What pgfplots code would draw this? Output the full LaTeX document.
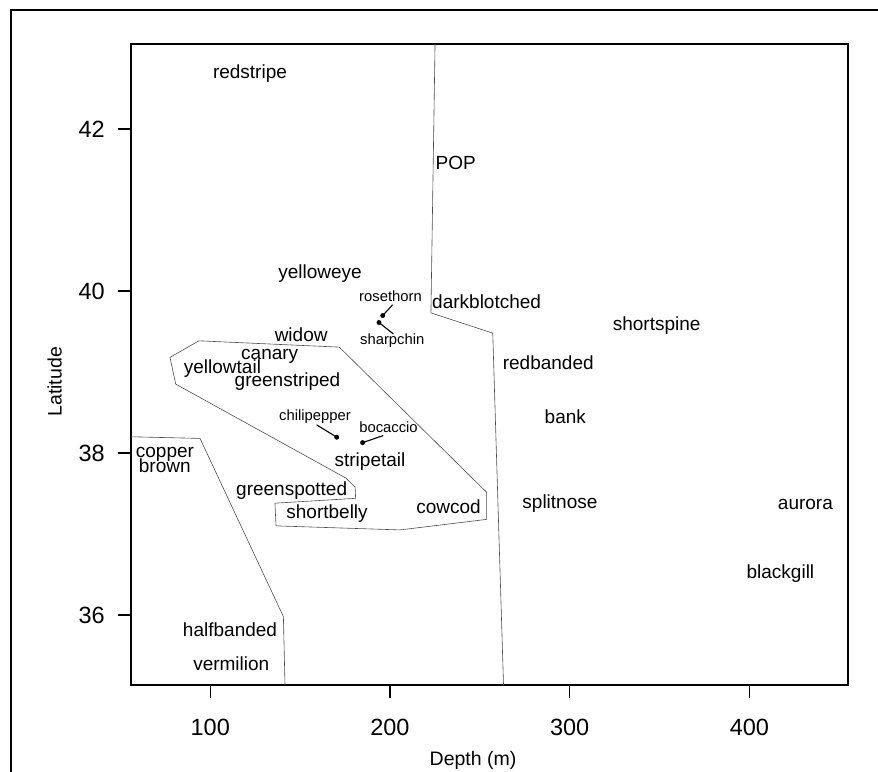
\documentclass[border=0pt]{standalone}
\usepackage{pgfplots}
\pgfplotsset{compat=1.18}
\usepackage{fontspec}
\setmainfont{Liberation Sans}
\begin{document}
\begin{tikzpicture}
\useasboundingbox (0pt,0pt) rectangle (878pt,-771pt);
\draw[line width=1.8pt] (11pt,-780pt) -- (11pt,-10pt) -- (890pt,-10pt);
\begin{axis}[
  at={(131pt,-685pt)}, anchor=south west,
  scale only axis, width=717pt, height=641pt,
  xmin=55.9, xmax=454.9, ymin=35.135, ymax=43.05,
  xtick={100,200,300,400}, ytick={36,38,40,42},
  xtick pos=bottom, ytick pos=left,
  tick align=outside, major tick length=13pt,
  axis line style={line width=1.1pt},
  every tick/.style={black, line width=1.1pt},
  tick label style={font=\fontsize{23.5}{26}\selectfont},
  /pgf/number format/assume math mode=true,
  yticklabel style={anchor=east, inner sep=0pt, xshift=-13pt},
  xticklabel style={anchor=north, inner sep=0pt, yshift=-21pt},
  xlabel={Depth (m)}, ylabel={Latitude},
  xlabel style={at={(axis description cs:0.477,-0.1248)}, anchor=base, font=\fontsize{19.5}{22}\selectfont},
  ylabel style={at={(axis description cs:-0.0967,0.473)}, anchor=base, font=\fontsize{19.5}{22}\selectfont},
  clip=false,
]
% shelf / slope boundary
\addplot[black!70, line width=0.6pt] coordinates {
 (225.1,43.05) (222.8,39.73) (257.2,39.48) (263.2,35.135)};
% bottom-left group
\addplot[black!70, line width=0.6pt] coordinates {
 (55.9,38.20) (94.3,38.18) (140.7,35.98) (141.6,35.135)};
% central group
\addplot[black!70, line width=0.6pt] coordinates {
 (93.7,39.385) (171.8,39.307) (253.8,37.515) (253.8,37.18) (205.6,37.05)
 (136.6,37.10) (136.0,37.38) (180.9,37.44) (180.6,37.58) (175.5,37.69)
 (80.8,38.85) (77.6,39.18) (93.7,39.385)};
% leader lines
\addplot[black, line width=1.1pt] coordinates {(196.0,39.697) (201.5,39.83)};
\addplot[black, line width=1.1pt] coordinates {(193.9,39.611) (201.9,39.47)};
\addplot[black, line width=1.1pt] coordinates {(159.2,38.347) (170.4,38.195)};
\addplot[black, line width=1.1pt] coordinates {(184.8,38.128) (196.3,38.215)};
% dots
\addplot[only marks, mark=*, mark size=2.2pt, black] coordinates {
 (196.0,39.697) (193.9,39.611) (170.4,38.195) (184.8,38.128)};
% large labels
\addplot[draw=none, mark=none, nodes near coords, point meta=explicit symbolic,
  nodes near coords align=center,
  every node near coord/.append style={anchor=base, inner sep=0pt, font=\fontsize{19}{22}\selectfont}]
 table[meta=label] {
x y label
122.1 42.625 redstripe
236.6 41.497 POP
161.1 40.15 yelloweye
253.8 39.79 darkblotched
348.4 39.51 shortspine
150.6 39.376 widow
133.1 39.15 canary
106.8 38.986 yellowtail
143.0 38.82 greenstriped
288.1 39.026 redbanded
297.6 38.368 bank
188.9 37.832 stripetail
74.8 37.948 copper
74.7 37.758 brown
145.3 37.473 greenspotted
165.0 37.194 shortbelly
232.6 37.256 cowcod
294.6 37.318 splitnose
431.2 37.305 aurora
417.3 36.453 blackgill
111.0 35.732 halfbanded
111.7 35.32 vermilion
};
% small labels
\addplot[draw=none, mark=none, nodes near coords, point meta=explicit symbolic,
  nodes near coords align=center,
  every node near coord/.append style={anchor=base, inner sep=0pt, font=\fontsize{14.8}{17}\selectfont}]
 table[meta=label] {
x y label
200.3 39.87 rosethorn
201.3 39.335 sharpchin
158.3 38.402 chilipepper
199.2 38.257 bocaccio
};
\end{axis}
\end{tikzpicture}
\end{document}
